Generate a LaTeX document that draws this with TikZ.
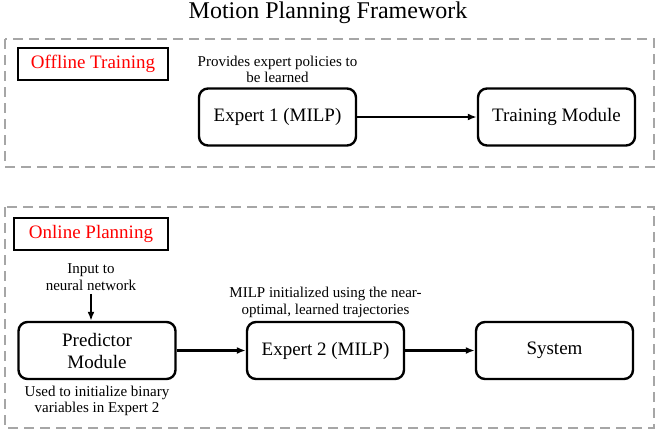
\documentclass[tikz,border=0pt]{standalone}
\usepackage{fontspec}
\setmainfont{Liberation Serif}
\usetikzlibrary{arrows.meta,positioning}

\tikzset{
  stage/.style={draw=black!35,line width=2.2pt,dash pattern=on 10pt off 6pt},
  phase/.style={draw,line width=1.8pt,font=\fontsize{19}{22}\selectfont,text=red,inner sep=0pt,minimum height=32pt},
  module/.style={draw,line width=2.4pt,rounded corners=9pt,minimum width=157pt,minimum height=57pt,
    align=center,font=\fontsize{19}{22}\selectfont},
  note/.style={align=center,font=\fontsize{15}{16.5}\selectfont},
  flow/.style={line width=2.2pt,-{Latex[length=9pt,width=7pt]}}
}

\begin{document}
\begin{tikzpicture}[x=1pt,y=-1pt]
  \useasboundingbox (0,0) rectangle (657,432);

  % title
  \node[font=\fontsize{24}{28}\selectfont] (title) at (328,13) {Motion Planning Framework};

  %% offline part
  \draw[stage] (5,39) rectangle (654,167);
  \node[phase,minimum width=150pt] (offline) at (93,64) {Offline Training};
  \node[module] (expA) at (277.5,117) {Expert 1 (MILP)};
  \node[module] (train) at (556.5,117) {Training Module};
  \node[note,above=1pt of expA] (provides) {Provides expert policies to\\be learned};
  \draw[flow] (expA) -- (train);

  %% online part
  \draw[stage] (5,207) rectangle (654,428);
  \node[phase,minimum width=154pt] (online) at (91,234) {Online Planning};
  \node[module] (pred) at (97,350.5) {Predictor\\Module};
  \node[module] (expB) at (325.5,350.5) {Expert 2 (MILP)};
  \node[module] (sys) at (554.5,350.5) {System};
  \node[note] (input) at (91,277) {Input to\\neural network};
  \node[note,below=2pt of pred] (used) {Used to initialize binary\\variables in Expert 2};
  \node[note,above=0pt of expB] (init) {MILP initialized using the near-\\optimal, learned trajectories};
  \draw[flow] (input) -- (input |- pred.north);
  \draw[flow] (pred) -- (expB);
  \draw[flow] (expB) -- (sys);
\end{tikzpicture}
\end{document}
